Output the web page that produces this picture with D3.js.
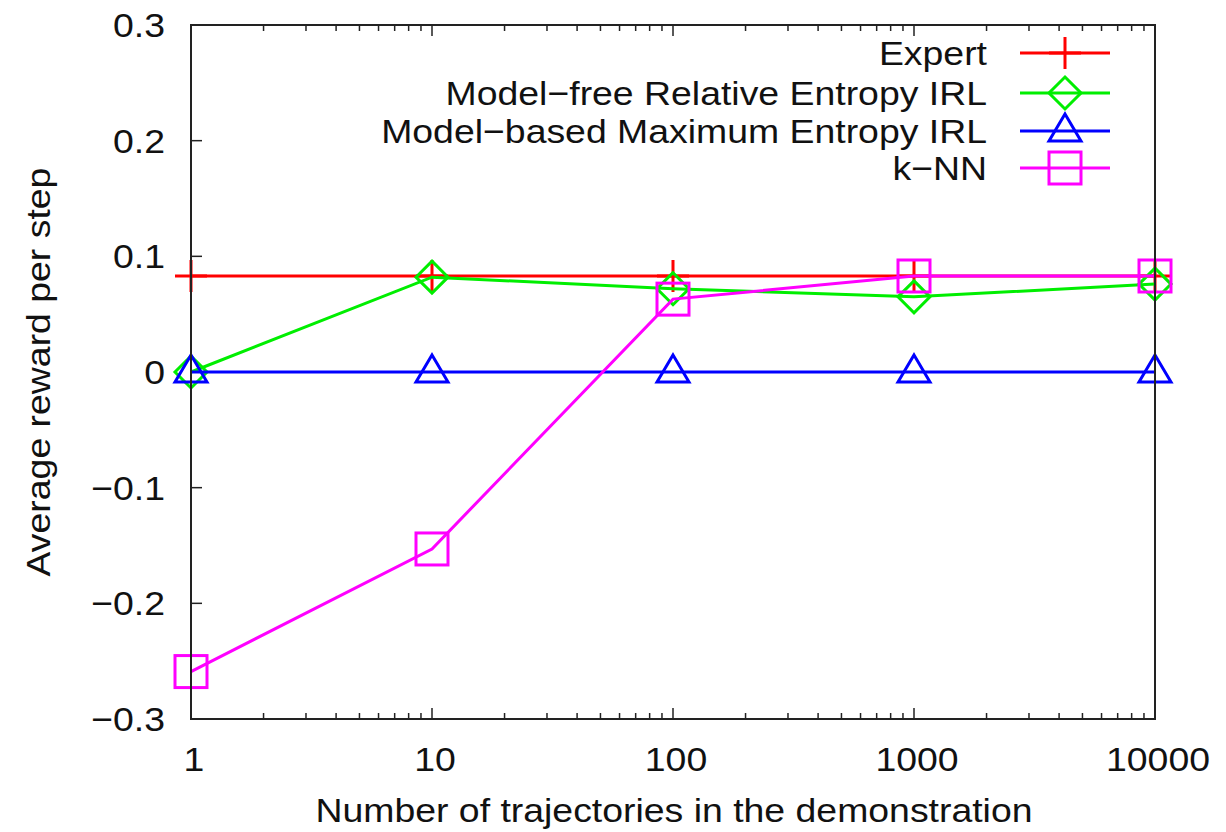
<!DOCTYPE html>
<html>
<head>
<meta charset="utf-8">
<script src="https://cdn.jsdelivr.net/npm/d3@7"></script>
<style>
  body { margin: 0; background: #fff; }
  svg { display: block; font-family: "Liberation Sans", Arial, sans-serif; }
</style>
</head>
<body>
<div id="chart"></div>
<script>
// Data
const trajectories = [1, 10, 100, 1000, 10000];
const expert = [0.083, 0.083, 0.083, 0.083, 0.083];
const modelFree = [0.0, 0.082, 0.072, 0.065, 0.076];
const modelBased = [0.0, 0.0, 0.0, 0.0, 0.0];
const knn = [-0.259, -0.153, 0.063, 0.083, 0.083];

const seriesNames = ['Expert', 'Model\u2212free Relative Entropy IRL', 'Model\u2212based Maximum Entropy IRL', 'k\u2212NN'];
const seriesColors = ['#ff0000', '#00ee00', '#0000ff', '#ff00ff'];
const seriesShapes = ['plus', 'diamond', 'triangle', 'square'];
const seriesValues = [expert, modelFree, modelBased, knn];

const xTicks = [1, 10, 100, 1000, 10000];
const yTicks = [-0.3, -0.2, -0.1, 0, 0.1, 0.2, 0.3];

const width = 1226, height = 832;
const margin = {top: 25, right: 71, bottom: 113, left: 191};

const svg = d3.select('#chart').append('svg')
    .attr('width', width)
    .attr('height', height);

const x = d3.scaleLog()
    .domain([1, 10000])
    .range([margin.left, width - margin.right]);

const y = d3.scaleLinear()
    .domain([-0.3, 0.3])
    .range([height - margin.bottom, margin.top]);

const fontSize = 34;
const stretch = 1.1;

// text with a slight horizontal stretch, like the original rendering
function addText(parent, tx, ty, str, anchor, rotate) {
    return parent.append('text')
        .attr('transform', `translate(${tx},${ty})${rotate ? ' rotate(-90)' : ''} scale(${stretch},1)`)
        .attr('text-anchor', anchor)
        .attr('font-size', fontSize)
        .attr('fill', '#111')
        .text(str);
}

// Tick marks (inward)
const tickG = svg.append('g').attr('stroke', '#222').attr('stroke-width', 1.5);
const minorTicks = [];
for (let d = 1; d < 10000; d *= 10) {
    for (let k = 2; k <= 9; k++) minorTicks.push(d * k);
}
minorTicks.forEach(v => {
    tickG.append('line').attr('x1', x(v)).attr('x2', x(v))
        .attr('y1', y(-0.3)).attr('y2', y(-0.3) - 6);
    tickG.append('line').attr('x1', x(v)).attr('x2', x(v))
        .attr('y1', y(0.3)).attr('y2', y(0.3) + 6);
});
xTicks.forEach(v => {
    tickG.append('line').attr('x1', x(v)).attr('x2', x(v))
        .attr('y1', y(-0.3)).attr('y2', y(-0.3) - 11);
    tickG.append('line').attr('x1', x(v)).attr('x2', x(v))
        .attr('y1', y(0.3)).attr('y2', y(0.3) + 11);
});
yTicks.forEach(v => {
    tickG.append('line').attr('x1', x(1)).attr('x2', x(1) + 11)
        .attr('y1', y(v)).attr('y2', y(v));
});

// Tick labels
const fmtY = v => (v === 0 ? '0' : (v < 0 ? '\u2212' : '') + Math.abs(v).toFixed(1));
const yLabG = svg.append('g');
yTicks.forEach(v => addText(yLabG, margin.left - 26, y(v) + 12, fmtY(v), 'end'));

const xLabG = svg.append('g');
xTicks.forEach(v => addText(xLabG, x(v) + 3, height - margin.bottom + 52, String(v), 'middle'));

// Axis titles
addText(svg, (margin.left + width - margin.right) / 2 + 1, 822, 'Number of trajectories in the demonstration', 'middle');
addText(svg, 50, y(0), 'Average reward per step', 'middle', true);

// Marker drawing
function drawMarker(g, shape, cx, cy, color) {
    const s = 16;
    if (shape === 'plus') {
        g.append('path')
            .attr('d', `M${cx - s},${cy}H${cx + s}M${cx},${cy - s}V${cy + s}`)
            .attr('stroke', color).attr('stroke-width', 3).attr('fill', 'none');
    } else if (shape === 'diamond') {
        g.append('path')
            .attr('d', `M${cx},${cy - s}L${cx + s},${cy}L${cx},${cy + s}L${cx - s},${cy}Z`)
            .attr('stroke', color).attr('stroke-width', 3).attr('fill', 'none');
    } else if (shape === 'triangle') {
        g.append('path')
            .attr('d', `M${cx},${cy - 17}L${cx + 16},${cy + 10}L${cx - 16},${cy + 10}Z`)
            .attr('stroke', color).attr('stroke-width', 3).attr('fill', 'none');
    } else if (shape === 'square') {
        g.append('rect')
            .attr('x', cx - s).attr('y', cy - s)
            .attr('width', 2 * s).attr('height', 2 * s)
            .attr('stroke', color).attr('stroke-width', 3).attr('fill', 'none');
    }
}

// Series lines and markers
const line = d3.line()
    .x((d, i) => x(trajectories[i]))
    .y(d => y(d));

seriesValues.forEach((vals, si) => {
    const g = svg.append('g');
    g.append('path')
        .datum(vals)
        .attr('d', line)
        .attr('fill', 'none')
        .attr('stroke', seriesColors[si])
        .attr('stroke-width', 3);
    vals.forEach((v, i) => drawMarker(g, seriesShapes[si], x(trajectories[i]), y(v), seriesColors[si]));
});

// Border
svg.append('rect')
    .attr('x', margin.left)
    .attr('y', margin.top)
    .attr('width', width - margin.right - margin.left)
    .attr('height', height - margin.bottom - margin.top)
    .attr('fill', 'none')
    .attr('stroke', '#222')
    .attr('stroke-width', 2);

// Legend
const legendTextX = 987, legendLineX1 = 1020, legendLineX2 = 1110;
const legendY = [53, 93, 131, 168];
seriesNames.forEach((name, i) => {
    const g = svg.append('g');
    addText(g, legendTextX, legendY[i] + 12, name, 'end');
    g.append('line')
        .attr('x1', legendLineX1).attr('x2', legendLineX2)
        .attr('y1', legendY[i]).attr('y2', legendY[i])
        .attr('stroke', seriesColors[i]).attr('stroke-width', 3);
    drawMarker(g, seriesShapes[i], (legendLineX1 + legendLineX2) / 2, legendY[i], seriesColors[i]);
});
</script>
</body>
</html>
